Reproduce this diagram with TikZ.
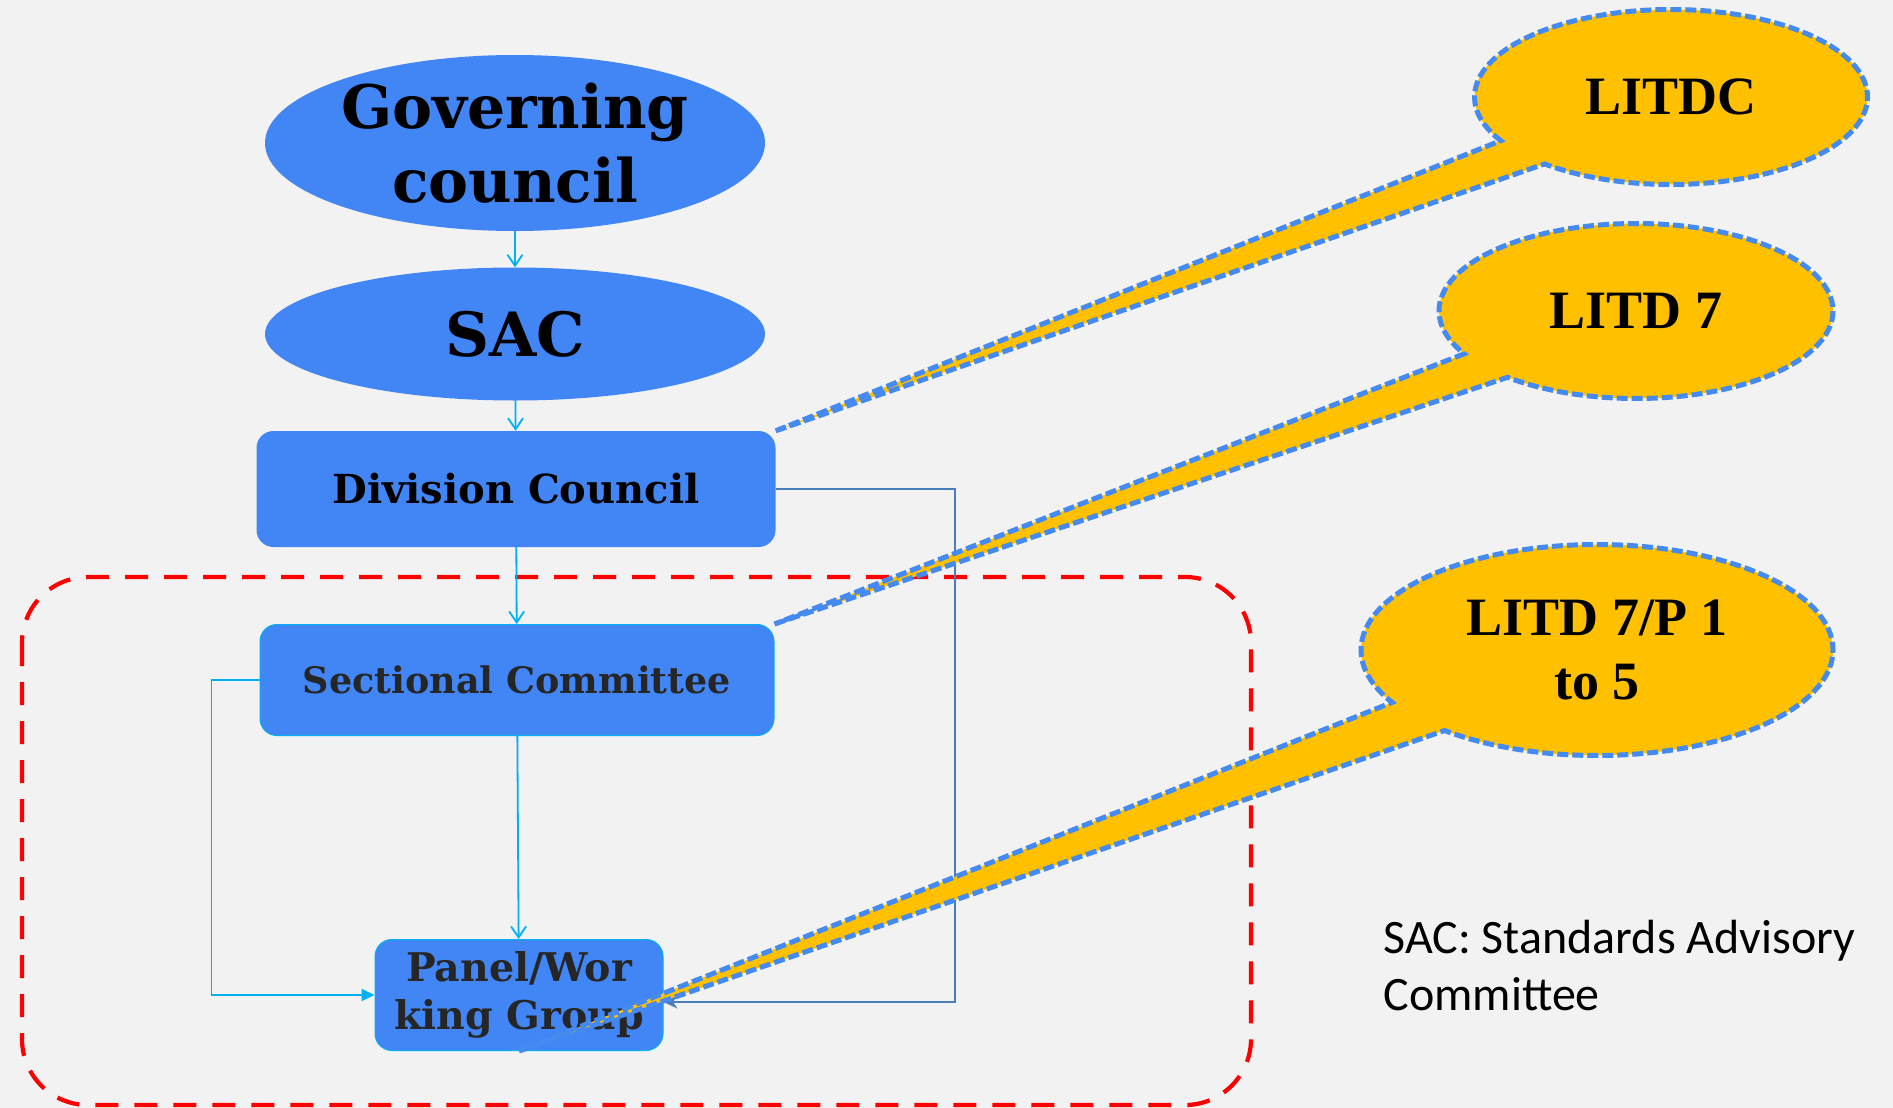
\documentclass[tikz,border=0pt]{standalone}
\usepackage{fontspec}
\usepackage{tikz}
\usetikzlibrary{arrows.meta, calc, positioning, shapes.geometric, shapes.callouts}
\newfontfamily\orgfont{DejaVu Serif}
\newfontfamily\tagfont{Liberation Serif}
\newfontfamily\notefont{Carlito}
\definecolor{pagebg}{RGB}{242,242,242}
\definecolor{boxblue}{RGB}{66,133,244}
\definecolor{arrowcyan}{RGB}{0,176,240}
\definecolor{loopblue}{RGB}{74,126,187}
\definecolor{calloutgold}{RGB}{255,192,0}
\definecolor{dashblue}{RGB}{68,138,240}
\definecolor{textgray}{RGB}{38,38,38}

\begin{document}
\begin{tikzpicture}[x=1pt, y=-1pt,
    orgoval/.style={ellipse, fill=boxblue, inner sep=0pt, minimum width=500pt, align=center,
        font=\orgfont\bfseries\fontsize{60}{72}\selectfont},
    orgbox/.style={rectangle, rounded corners=17pt, fill=boxblue, inner sep=0pt, align=center},
    flow/.style={draw=arrowcyan, line width=1.8pt, -{Straight Barb[length=11pt, width=15pt]}},
    tagnote/.style={ellipse callout, fill=calloutgold, draw=dashblue, line width=5pt,
        dash pattern=on 11pt off 4pt, inner sep=0pt, callout pointer arc=20, align=center,
        font=\tagfont\bfseries\fontsize{54}{64}\selectfont}]
    \useasboundingbox[fill=pagebg] (0,0) rectangle (1893,1108);

    % dashed frame round the committee levels
    \draw[red, line width=4.2pt, dash pattern=on 23pt off 16pt, rounded corners=66pt]
        (22,577) rectangle (1251,1105);

    % hierarchy
    \node[orgoval, minimum height=176pt] (gc) at (515,143) {Governing\\[2pt]council};
    \node[orgoval, minimum height=133pt, font=\orgfont\bfseries\fontsize{61}{72}\selectfont]
        (sac) at (515,334) {SAC};
    \node[orgbox, minimum width=519pt, minimum height=116pt,
        font=\orgfont\bfseries\fontsize{40}{48}\selectfont] (dc) at (516,489) {Division Council};
    \node[orgbox, draw=arrowcyan, line width=1pt, text=textgray, minimum width=514pt,
        minimum height=111pt, font=\orgfont\bfseries\fontsize{36.5}{44}\selectfont]
        (sc) at (517,680) {Sectional Committee};
    \node[orgbox, draw=arrowcyan, line width=1pt, text=textgray, minimum width=288pt,
        minimum height=111pt, font=\orgfont\bfseries\fontsize{39.5}{44}\selectfont]
        (pwg) at (519,995) {Panel/Wor\\[4pt]king Group};

    \draw[flow] (gc) -- (sac);
    \draw[flow] (sac) -- (dc);
    \draw[flow] (dc) -- (sc);
    \draw[flow] (sc) -- (pwg);
    \draw[draw=arrowcyan, line width=1.8pt, -{Triangle[length=13pt, width=12pt]}]
        (sc.west) -- ++(-48,0) |- (pwg.west);
    \coordinate (loopin) at ($(pwg.east)+(0,7)$);
    \draw[draw=loopblue, line width=1.8pt, -{Stealth[length=14pt, width=13pt]}]
        (dc.east) -- ++(179,0) |- (loopin);

    % code callouts
    \node[tagnote, minimum width=393pt, minimum height=175pt,
        callout absolute pointer={(dc.north east)}] (litdc) at (1671,97) {LITDC};
    \node[tagnote, minimum width=394pt, minimum height=175pt,
        callout absolute pointer={(sc.north east)}] (litd) at (1636,311) {LITD 7};
    \node[tagnote, minimum width=472pt, minimum height=211pt,
        callout absolute pointer={(pwg.south)}] (panels) at (1597,650) {LITD 7/P 1\\to 5};

    \node[anchor=west, align=left, font=\notefont\fontsize{48}{57}\selectfont] (legend)
        at (1380,966) {SAC: Standards Advisory\\Committee};
\end{tikzpicture}
\end{document}
